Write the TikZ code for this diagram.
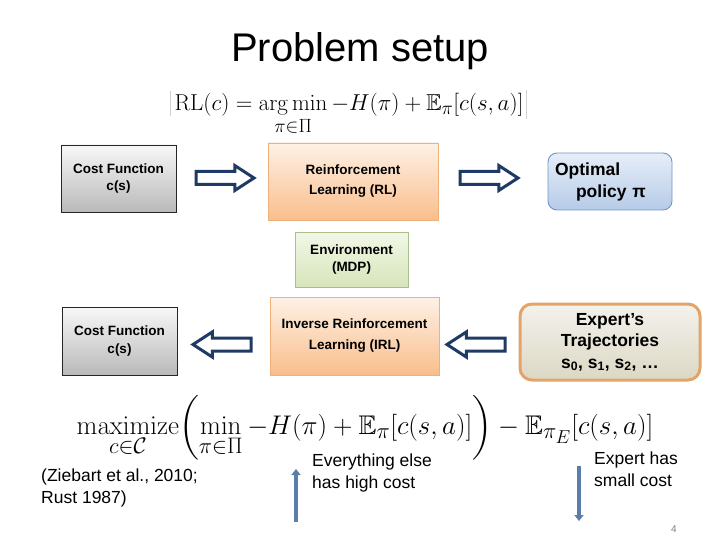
\documentclass[tikz,border=0pt]{standalone}
\usepackage[no-math]{fontspec}
\setmainfont{Liberation Sans}
\usepackage{amsmath,amssymb,graphicx}
\usetikzlibrary{arrows.meta,shapes.arrows}
\definecolor{navy}{HTML}{1F3A64}
\definecolor{steel}{HTML}{5B7EA8}
\definecolor{orbrd}{HTML}{F0B07A}
\definecolor{ortop}{HTML}{FEF1E6}
\definecolor{orbot}{HTML}{F9BE8C}
\definecolor{blbrd}{HTML}{6F95C9}
\definecolor{bltop}{HTML}{E6EEF8}
\definecolor{blbot}{HTML}{B6CBE8}
\definecolor{grbrd}{HTML}{A9BE8A}
\definecolor{grtop}{HTML}{F2F7E8}
\definecolor{grbot}{HTML}{D7E5BA}
\definecolor{exbrd}{HTML}{E3A46A}
\definecolor{extop}{HTML}{F3F2EC}
\definecolor{exbot}{HTML}{DCD8C5}
\tikzset{
  boxtext/.style={align=center, font=\fontsize{13.5}{19}\selectfont\bfseries},
  graybox/.style={boxtext, draw=black!85, line width=0.8pt, top color=gray!6, bottom color=gray!55, minimum width=115pt, minimum height=67pt, inner sep=0pt},
  orangebox/.style={boxtext, draw=orbrd, line width=0.8pt, top color=ortop, bottom color=orbot, minimum width=170pt, minimum height=77pt, inner sep=0pt},
  bluebox/.style={draw=blbrd, line width=0.9pt, rounded corners=9pt, top color=bltop, bottom color=blbot, minimum width=124pt, minimum height=57pt, inner sep=0pt},
  greenbox/.style={boxtext, draw=grbrd, line width=0.8pt, top color=grtop, bottom color=grbot, minimum width=113pt, minimum height=55pt, inner sep=0pt},
  expertbox/.style={align=center, font=\fontsize{17.5}{21.5}\selectfont\bfseries, draw=exbrd, line width=3pt, rounded corners=12pt, top color=extop, bottom color=exbot, minimum width=180pt, minimum height=76pt, inner sep=0pt},
  blockarrow/.style={single arrow, draw=navy, line width=3pt, fill=white, inner xsep=0pt, inner ysep=5pt, single arrow head extend=6pt, single arrow tip angle=66, minimum height=58pt, outer sep=0pt},
  thinarrow/.style={draw=steel, line width=3.2pt, -{Triangle[width=9pt,length=6pt]}},
  plain/.style={font=\fontsize{17.5}{21.5}\selectfont, align=left, inner sep=0pt}
}
\begin{document}
\begin{tikzpicture}[x=1pt,y=-1pt]
\useasboundingbox (0,0) rectangle (720,540);
% title
\node[anchor=base, font=\fontsize{40}{48}\selectfont, inner sep=0pt] (title) at (360,62) {Problem setup};
% RL equation
\draw[gray!35, line width=0.8pt] (170,91) -- (170,116) (526,90) -- (526,119);
\node[anchor=base, inner sep=0pt, font=\fontsize{24.88}{28}\selectfont] (eq1) at (349,111)
  {\scalebox{0.925}{$\displaystyle \mathrm{RL}(c) = \operatorname*{arg\,min}_{\pi\in\Pi} -H(\pi) + \mathbb{E}_{\pi}[c(s,a)]$}};
% top row
\node[graybox, font=\fontsize{13.5}{17.5}\selectfont\bfseries] (cf1) at (118.5,178.5) {Cost Function\\c(s)};
\node[orangebox, font=\fontsize{13.5}{20}\selectfont\bfseries] (rl) at (353,181.5) {Reinforcement\\Learning (RL)};
\node[bluebox, text width=110pt, align=left, font=\fontsize{17.5}{22}\selectfont\bfseries] (opt) at (610,181.5) {Optimal\\\hspace*{21pt}policy π};
\node[blockarrow, anchor=tip] (a1) at (254,178) {};
\node[blockarrow, anchor=tip] (a2) at (518,178) {};
% environment
\node[greenbox, font=\fontsize{13.5}{17.5}\selectfont\bfseries] (env) at (351.5,259.5) {Environment\\(MDP)};
% bottom row
\node[graybox, minimum height=68pt, font=\fontsize{13.5}{17.5}\selectfont\bfseries] (cf2) at (119.5,341) {Cost Function\\c(s)};
\node[orangebox, minimum width=169pt, minimum height=78pt, font=\fontsize{13.5}{21}\selectfont\bfseries] (irl) at (354.5,336) {Inverse Reinforcement\\Learning (IRL)};
\node[expertbox] (exp) at (610,342) {Expert’s\\Trajectories\\s\textsubscript{0}, s\textsubscript{1}, s\textsubscript{2}, …};
\node[blockarrow, shape border rotate=180, anchor=tip] (a3) at (193,344.5) {};
\node[blockarrow, shape border rotate=180, anchor=tip] (a4) at (447,344.5) {};
% IRL equation
\node[anchor=base, inner sep=0pt, font=\fontsize{24.88}{29}\selectfont] (eq2) at (365,434)
  {\scalebox{1.083}{$\displaystyle \operatorname*{maximize}_{c\in\mathcal{C}} \biggl(\min_{\pi\in\Pi} -H(\pi) + \mathbb{E}_{\pi}[c(s,a)]\biggr) - \mathbb{E}_{\pi_E}[c(s,a)]$}};
% bottom texts
\node[plain, anchor=base west] (cite) at (41,503) {(Ziebart et al., 2010;\\Rust 1987)};
\coordinate (u1) at (296,522);
\coordinate (u2) at (296,469);
\draw[thinarrow] (u1) -- (u2);
\node[plain, anchor=base west] (high) at (312,488) {Everything else\\has high cost};
\coordinate (d1) at (579,466);
\coordinate (d2) at (579,521);
\draw[thinarrow] (d1) -- (d2);
\node[plain, anchor=base west] (small) at (594,486) {Expert has\\small cost};
\node[anchor=base, font=\fontsize{10}{12}\selectfont, text=gray, inner sep=0pt] (pg) at (674,532) {4};
\end{tikzpicture}
\end{document}
